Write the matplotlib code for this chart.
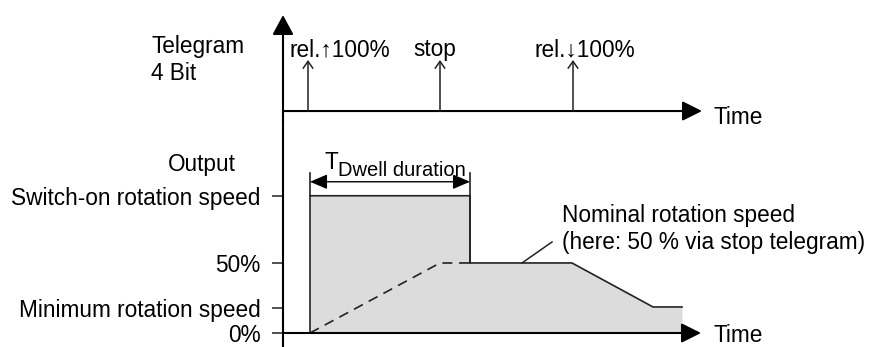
import matplotlib.pyplot as plt

# time in arbitrary units, output in percent
telegram_times = [2.5, 15.7, 29.0]
telegram_labels = ["rel.\u2191100%", "stop", "rel.\u2193100%"]

output_t = [2.7, 2.7, 18.7, 18.7, 28.9, 37.0, 39.9, 39.9]
output_y = [0, 98, 98, 50, 50, 18.6, 18.6, 0]

ramp_t = [2.7, 15.7, 18.7]
ramp_y = [0, 50, 50]

level_values = [0, 18, 50, 98]
level_labels = ["0%", "Minimum rotation speed", "50%", "Switch-on rotation speed"]

dwell_start, dwell_end = 2.7, 18.7

LINE = "#222222"
FILL = "#dcdcdc"
FS = 16.3

plt.rcParams['font.family'] = ['Liberation Sans', 'DejaVu Sans']

fig = plt.figure(figsize=(8.71, 3.47), dpi=100)
x_lim = (-28.3, 58.8)

# ---- top: telegram ----
ax_t = fig.add_axes([0, 227 / 347, 1, 120 / 347])
ax_t.set_xlim(*x_lim)
ax_t.set_ylim(-0.176, 2.176)
ax_t.axis("off")

ax_t.annotate("", xy=(0, 1.88), xytext=(0, -0.2),
              arrowprops=dict(arrowstyle="-|>,head_length=12,head_width=6.5",
                              mutation_scale=1, color="black", lw=1.5,
                              shrinkA=0, shrinkB=0), annotation_clip=False)
ax_t.annotate("", xy=(41.9, 0), xytext=(0, 0),
              arrowprops=dict(arrowstyle="-|>,head_length=12,head_width=6",
                              mutation_scale=1, color="black", lw=1.5,
                              shrinkA=0, shrinkB=0))
for t, lab in zip(telegram_times, telegram_labels):
    ax_t.annotate("", xy=(t, 1.0), xytext=(t, 0),
                  arrowprops=dict(arrowstyle="->,head_length=5,head_width=3.5",
                                  mutation_scale=1, color=LINE, lw=1.1,
                                  shrinkA=0, shrinkB=0))
ax_t.text(5.7, 1.2, telegram_labels[0], ha="center", va="center", fontsize=FS)
ax_t.text(15.2, 1.2, telegram_labels[1], ha="center", va="center", fontsize=FS)
ax_t.text(30.2, 1.2, telegram_labels[2], ha="center", va="center", fontsize=FS)
ax_t.text(-13.2, 1.0, "Telegram\n4 Bit", ha="left", va="center",
          fontsize=FS, linespacing=1.2)
ax_t.text(43.0, -0.12, "Time", ha="left", va="center", fontsize=FS)

# ---- bottom: output ----
ax = fig.add_axes([0, 0, 1, 227 / 347])
ax.patch.set_visible(False)
ax.set_xlim(*x_lim)
ax.set_ylim(-10, 152.1)
for s in ["top", "right", "bottom"]:
    ax.spines[s].set_visible(False)
ax.spines["left"].set_position(("data", 0))
ax.spines["left"].set_linewidth(1.5)
ax.spines["left"].set_color("black")
ax.set_xticks([])
ax.set_yticks(level_values)
ax.set_yticklabels(level_labels, fontsize=FS)
ax.tick_params(axis="y", direction="out", length=7.9, width=1.1,
               color=LINE, pad=8.4)

ax.fill_between(output_t, output_y, 0, color=FILL, lw=0)
ax.plot(output_t[:-1], output_y[:-1], color=LINE, lw=1.2)
ax.plot(ramp_t, ramp_y, color=LINE, lw=1.2, dashes=(6, 4))

ax.annotate("", xy=(41.8, 0), xytext=(0, 0),
            arrowprops=dict(arrowstyle="-|>,head_length=12,head_width=6",
                            mutation_scale=1, color="black", lw=1.5,
                            shrinkA=0, shrinkB=0))

# dwell duration marker
ax.plot([dwell_start, dwell_start], [98, 114.3], color=LINE, lw=1.2)
ax.plot([dwell_end, dwell_end], [50, 114.3], color=LINE, lw=1.2)
ax.annotate("", xy=(dwell_end, 108), xytext=(dwell_start, 108),
            arrowprops=dict(arrowstyle="<|-|>,head_length=10.5,head_width=4.5",
                            mutation_scale=1, color="black", lw=1.0,
                            shrinkA=0, shrinkB=0))
ax.text(4.1, 122, "T", ha="left", va="center", fontsize=FS)
ax.text(5.5, 116, "Dwell duration", ha="left", va="center", fontsize=14.5)

ax.text(-8.1, 120, "Output", ha="center", va="center", fontsize=FS)

# nominal speed note
ax.plot([23.9, 26.9], [50, 65], color=LINE, lw=1.1)
ax.text(27.9, 74.3, "Nominal rotation speed\n(here: 50 % via stop telegram)",
        ha="left", va="center", fontsize=FS, linespacing=1.2)
ax.text(43.0, -1.8, "Time", ha="left", va="center", fontsize=FS)

fig.savefig("out.png", dpi=100)
